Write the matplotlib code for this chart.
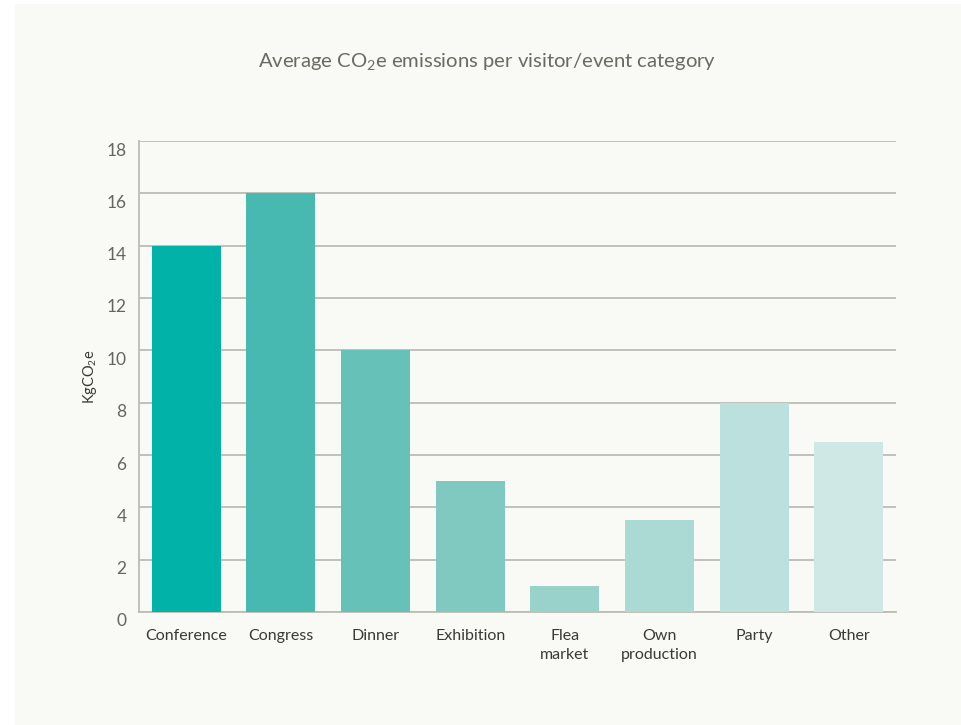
import matplotlib
matplotlib.use("Agg")
import matplotlib.pyplot as plt
import matplotlib.transforms as mtransforms
from matplotlib.patches import Rectangle

plt.rcParams['font.family'] = ['Lato', 'DejaVu Sans']
plt.rcParams['mathtext.fontset'] = 'custom'
plt.rcParams['mathtext.rm'] = 'Lato'
plt.rcParams['mathtext.it'] = 'Lato'

categories = ["Conference", "Congress", "Dinner", "Exhibition",
              "Flea\nmarket", "Own\nproduction", "Party", "Other"]
emissions = [14, 16, 10, 5, 1, 3.5, 8, 6.5]
bar_colors = ["#00B2A8", "#48B9B1", "#66C1B8", "#80C9C0",
              "#98D2CB", "#ABD9D4", "#BCE0DE", "#D0E8E5"]
y_ticks = [0, 2, 4, 6, 8, 10, 12, 14, 16, 18]

panel = "#F9F9F5"
grid = "#BDBDB5"

fig = plt.figure(figsize=(9.62, 7.25), dpi=100, facecolor="white")
fig.patches.append(Rectangle((15 / 962, 0), 1, 721 / 725, transform=fig.transFigure,
                             facecolor=panel, edgecolor="none", zorder=-10))

ax = fig.add_axes([139 / 962, 113 / 725, 757 / 962, 471 / 725])
ax.set_facecolor(panel)

x = range(len(categories))
ax.bar(x, emissions, width=0.73, color=bar_colors, zorder=3)

ax.set_xlim(-0.5, len(categories) - 0.5)
ax.set_ylim(0, 18)
ax.set_yticks(y_ticks)
ax.set_xticks(list(x))
ax.set_xticklabels(categories, fontsize=11.5, color="#3A3A35", linespacing=1.45)
ax.tick_params(axis="x", length=0, pad=12)
ax.tick_params(axis="y", length=0, pad=9, labelsize=12.5, labelcolor="#666660")

# nudge y labels down a little
offset = mtransforms.ScaledTranslation(0, -8 / 100, fig.dpi_scale_trans)
for lbl in ax.get_yticklabels():
    lbl.set_transform(lbl.get_transform() + offset)

ax.yaxis.grid(True, color=grid, linewidth=1.3, zorder=0)
for side in ["top", "right"]:
    ax.spines[side].set_visible(False)
for side in ["left", "bottom"]:
    ax.spines[side].set_color(grid)
    ax.spines[side].set_linewidth(1.3)

ax.set_ylabel(r"KgCO$_2$e", fontsize=10.5, color="#3A3A35", labelpad=5)

fig.text(487 / 962, 1 - 61 / 725, r"Average CO$_2$e emissions per visitor/event category",
         ha="center", va="center", fontsize=14.6, color="#6A6A62")

fig.savefig("out.png", dpi=100, facecolor=fig.get_facecolor())
